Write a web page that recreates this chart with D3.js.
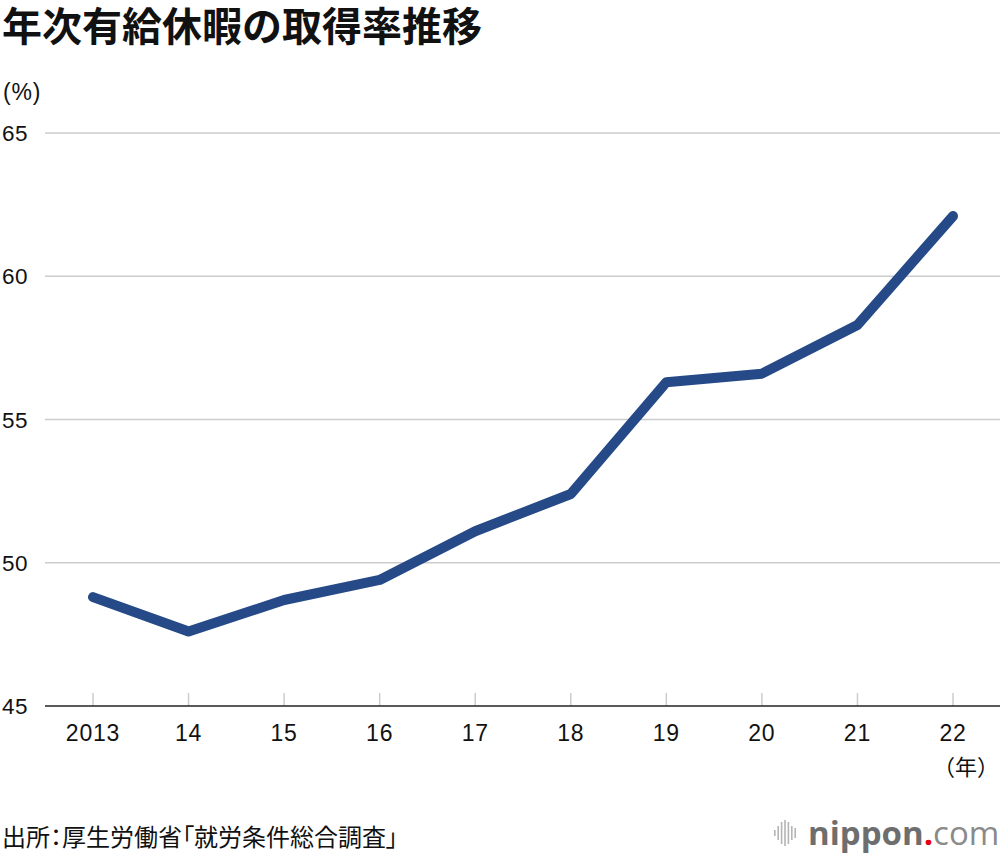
<!DOCTYPE html>
<html>
<head>
<meta charset="utf-8">
<script src="https://cdn.jsdelivr.net/npm/d3@7"></script>
<style>
  body { margin: 0; background: #fff; }
  text { font-family: "Noto Sans CJK JP", "Noto Sans", sans-serif; }
</style>
</head>
<body>
<svg id="canvas" width="1000" height="856"></svg>
<script>
let years = ["2013", "14", "15", "16", "17", "18", "19", "20", "21", "22"]
let rates = [48.8, 47.6, 48.7, 49.4, 51.1, 52.4, 56.3, 56.6, 58.3, 62.1]
let yTicks = [45, 50, 55, 60, 65]

let canvas = d3.select("#canvas")

let x = d3.scalePoint()
  .domain(years)
  .range([93, 953])

let y = d3.scaleLinear()
  .domain([45, 65])
  .range([706, 133])

// title
canvas.append("text")
  .attr("x", 2)
  .attr("y", 41)
  .attr("font-size", 40)
  .attr("font-weight", "bold")
  .attr("fill", "#111")
  .text("年次有給休暇の取得率推移")

canvas.append("text")
  .attr("x", 3)
  .attr("y", 100)
  .attr("font-size", 23)
  .attr("letter-spacing", 0.8)
  .attr("fill", "#111")
  .style("font-family", "'Liberation Sans', Arial, sans-serif")
  .text("(%)")

// gridlines
canvas.selectAll(".grid")
  .data(yTicks.filter(d => d > 45))
  .enter()
  .append("line")
  .attr("class", "grid")
  .attr("x1", 45)
  .attr("x2", 1000)
  .attr("y1", d => y(d))
  .attr("y2", d => y(d))
  .attr("stroke", "#cccccc")
  .attr("stroke-width", 1.5)

// y labels
canvas.selectAll(".ylab")
  .data(yTicks)
  .enter()
  .append("text")
  .attr("class", "ylab")
  .attr("x", 2)
  .attr("y", d => y(d) + 8)
  .attr("font-size", 22.5)
  .attr("letter-spacing", 0.5)
  .attr("fill", "#111")
  .style("font-family", "'Liberation Sans', Arial, sans-serif")
  .text(d => d)

// x ticks
canvas.selectAll(".xtick")
  .data(years)
  .enter()
  .append("line")
  .attr("class", "xtick")
  .attr("x1", d => x(d))
  .attr("x2", d => x(d))
  .attr("y1", y(45) - 13)
  .attr("y2", y(45))
  .attr("stroke", "#cccccc")
  .attr("stroke-width", 1.5)

canvas.append("line")
  .attr("x1", 45)
  .attr("x2", 1000)
  .attr("y1", y(45))
  .attr("y2", y(45))
  .attr("stroke", "#222")
  .attr("stroke-width", 1.5)

canvas.selectAll(".xlab")
  .data(years)
  .enter()
  .append("text")
  .attr("class", "xlab")
  .attr("x", d => x(d))
  .attr("y", 741)
  .attr("text-anchor", "middle")
  .attr("font-size", 23)
  .attr("letter-spacing", 0.8)
  .attr("fill", "#111")
  .style("font-family", "'Liberation Sans', Arial, sans-serif")
  .text(d => d)

canvas.append("text")
  .attr("x", 999)
  .attr("y", 775)
  .attr("text-anchor", "end")
  .attr("font-size", 22)
  .attr("fill", "#111")
  .text("（年）")

// line
let line = d3.line()
  .x((d, i) => x(years[i]))
  .y(d => y(d))

canvas.append("path")
  .attr("d", line(rates))
  .attr("fill", "none")
  .attr("stroke", "#264a87")
  .attr("stroke-width", 10)
  .attr("stroke-linecap", "round")
  .attr("stroke-linejoin", "round")

// source
canvas.append("text")
  .attr("x", 2)
  .attr("y", 846)
  .attr("font-size", 24)
  .attr("fill", "#111")
  .style("font-feature-settings", "'palt'")
  .text("出所：厚生労働省「就労条件総合調査」")

// logo
let bars = [6, 14, 22, 26, 22, 14, 10]
canvas.selectAll(".logobar")
  .data(bars)
  .enter()
  .append("rect")
  .attr("class", "logobar")
  .attr("x", (d, i) => 774 + i * 3.4)
  .attr("y", d => 833 - d / 2)
  .attr("width", 1.6)
  .attr("height", d => d)
  .attr("fill", "#b5b5b5")

let logo = canvas.append("text")
  .attr("x", 808)
  .attr("y", 845)
  .attr("font-size", 33)
  .style("font-family", "'Open Sans', sans-serif")
logo.append("tspan").attr("fill", "#6e6e6e").attr("font-weight", "bold").text("nippon")
logo.append("tspan").attr("fill", "#e60012").attr("font-weight", "bold").text(".")
logo.append("tspan").attr("fill", "#8a8a8a").text("com")
</script>
</body>
</html>
